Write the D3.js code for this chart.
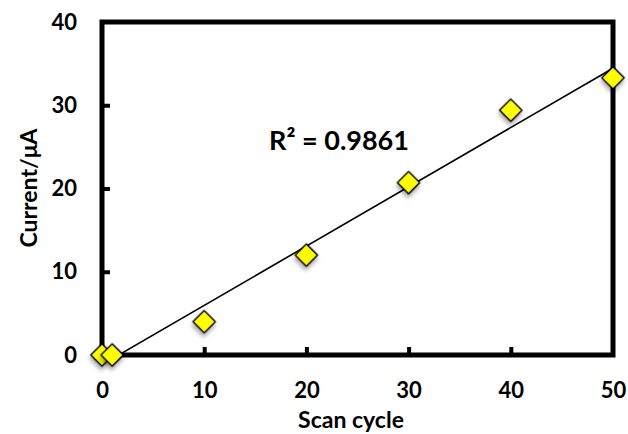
<!DOCTYPE html>
<html>
<head>
<meta charset="utf-8">
<script src="https://cdn.jsdelivr.net/npm/d3@7"></script>
<style>
  body { margin: 0; background: #fff; }
  text { font-family: Lato, "Open Sans", sans-serif; font-weight: bold; fill: #000; }
</style>
</head>
<body>
<div id="chart"></div>
<script>
// scan cycle vs current
const cycles = [0, 1, 10, 20, 30, 40, 50];
const currents = [0, 0, 4.0, 12.0, 20.7, 29.4, 33.3];
const xTicks = [0, 10, 20, 30, 40, 50];
const yTicks = [0, 10, 20, 30, 40];
const r2Label = "R\u00B2 = 0.9861";

const width = 628, height = 434;
const margin = {top: 22, right: 15, bottom: 79, left: 102};

const svg = d3.select("#chart").append("svg")
    .attr("width", width)
    .attr("height", height);

const defs = svg.append("defs");
const shadow = defs.append("filter").attr("id", "shadow")
    .attr("x", "-50%").attr("y", "-50%").attr("width", "200%").attr("height", "200%");
shadow.append("feDropShadow")
    .attr("dx", 2).attr("dy", 3).attr("stdDeviation", 2)
    .attr("flood-color", "#000").attr("flood-opacity", 0.35);

defs.append("clipPath").attr("id", "plotclip")
  .append("rect")
    .attr("x", margin.left).attr("y", margin.top)
    .attr("width", width - margin.left - margin.right)
    .attr("height", height - margin.top - margin.bottom);

// scales
const x = d3.scaleLinear().domain([0, 50]).range([margin.left, width - margin.right]);
const y = d3.scaleLinear().domain([0, 40]).range([height - margin.bottom, margin.top]);

// ticks pointing into the plot
const xAxis = d3.axisBottom(x).tickValues(xTicks).tickSizeInner(-8).tickSizeOuter(0).tickPadding(27);
const yAxis = d3.axisLeft(y).tickValues(yTicks).tickSizeInner(-8).tickSizeOuter(0).tickPadding(25);

const gx = svg.append("g")
    .attr("transform", "translate(0," + y(0) + ")")
    .call(xAxis);
const gy = svg.append("g")
    .attr("transform", "translate(" + x(0) + ",0)")
    .call(yAxis);

[gx, gy].forEach(function(g){
    g.select(".domain").remove();
    g.selectAll(".tick line").attr("stroke", "#000").attr("stroke-width", 4);
    g.selectAll(".tick text").style("font-size", "22px");
});
gx.selectAll(".tick line").filter(function(d){ return d === 0 || d === 50; }).remove();
gy.selectAll(".tick line").filter(function(d){ return d === 0 || d === 40; }).remove();

// plot area frame
svg.append("rect")
    .attr("x", x(0)).attr("y", y(40))
    .attr("width", x(50) - x(0))
    .attr("height", y(0) - y(40))
    .attr("fill", "none")
    .attr("stroke", "#000")
    .attr("stroke-width", 5);

// linear trendline (least squares)
const n = cycles.length;
const mx = d3.mean(cycles), my = d3.mean(currents);
let sxy = 0, sxx = 0;
for (let i = 0; i < n; i++) {
    sxy += (cycles[i] - mx) * (currents[i] - my);
    sxx += (cycles[i] - mx) * (cycles[i] - mx);
}
const slope = sxy / sxx, intercept = my - slope * mx;
const xmin = d3.min(cycles), xmax = d3.max(cycles);

svg.append("line")
    .attr("clip-path", "url(#plotclip)")
    .attr("x1", x(xmin)).attr("y1", y(intercept + slope * xmin))
    .attr("x2", x(xmax)).attr("y2", y(intercept + slope * xmax))
    .attr("stroke", "#000")
    .attr("stroke-width", 1.6);

// diamond markers
const side = 15.5;
svg.append("g").selectAll("rect")
    .data(cycles.map(function(c, i){ return {x: c, y: currents[i]}; }))
    .enter()
    .append("rect")
    .attr("x", -side / 2).attr("y", -side / 2)
    .attr("width", side).attr("height", side)
    .attr("transform", function(d){
        return "translate(" + x(d.x) + "," + y(d.y) + ") rotate(45)";
    })
    .attr("fill", "#FFFF00")
    .attr("stroke", "#000")
    .attr("stroke-width", 1.6)
    .attr("filter", "url(#shadow)");

// R squared label
svg.append("text")
    .attr("x", 339).attr("y", 150)
    .attr("text-anchor", "middle")
    .style("font-size", "27px")
    .text(r2Label);

// axis titles
svg.append("text")
    .attr("x", 351).attr("y", 428)
    .attr("text-anchor", "middle")
    .style("font-size", "23px")
    .text("Scan cycle");

svg.append("text")
    .attr("transform", "translate(37,188) rotate(-90)")
    .attr("text-anchor", "middle")
    .style("font-size", "23px")
    .text("Current/\u03BCA");
</script>
</body>
</html>
